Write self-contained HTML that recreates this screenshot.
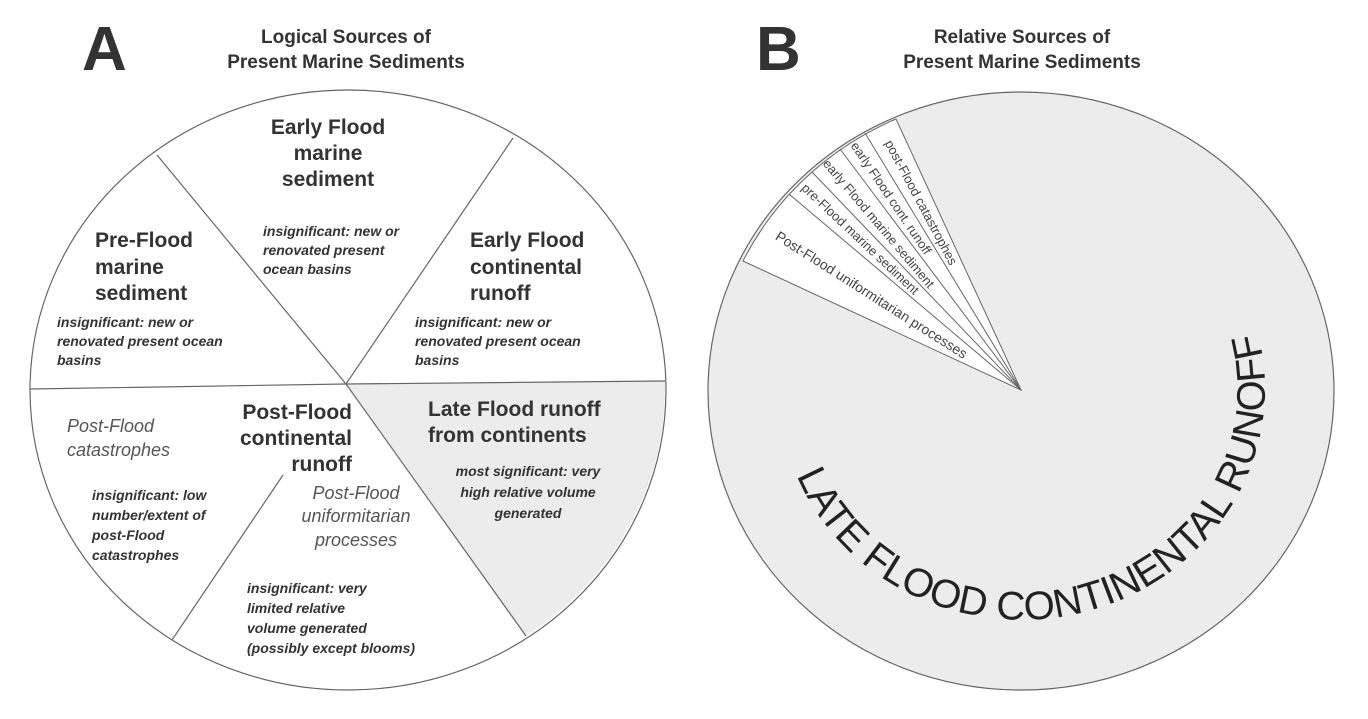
<!DOCTYPE html>
<html><head><meta charset="utf-8"><style>
html,body{margin:0;padding:0;background:#fff;}
svg{display:block;font-family:"Liberation Sans",sans-serif;}
.b{font-weight:bold;font-size:21px;fill:#333;}
.bi{font-weight:bold;font-style:italic;font-size:14px;fill:#333;}
.ri{font-style:italic;font-size:18px;fill:#555;}
.s{font-size:13px;fill:#444;}
</style></head><body>
<svg width="1368" height="719" viewBox="0 0 1368 719">
<text x="82" y="70" font-size="62" font-weight="bold" fill="#333">A</text>
<text x="346" y="43" text-anchor="middle" font-size="19" font-weight="bold" fill="#333">Logical Sources of</text>
<text x="346" y="68" text-anchor="middle" font-size="19" font-weight="bold" fill="#333">Present Marine Sediments</text>
<text x="756" y="70" font-size="62" font-weight="bold" fill="#333">B</text>
<text x="1022" y="43" text-anchor="middle" font-size="19" font-weight="bold" fill="#333">Relative Sources of</text>
<text x="1022" y="68" text-anchor="middle" font-size="19" font-weight="bold" fill="#333">Present Marine Sediments</text>

<!-- Pie A -->
<ellipse cx="348" cy="390" rx="318" ry="300" fill="#fff"/>
<path d="M346,384 L665,381 A318,300 0 0 1 526,636 Z" fill="#ececec"/>
<ellipse cx="348" cy="390" rx="318" ry="300" fill="none" stroke="#666" stroke-width="1.2"/>
<g stroke="#666" stroke-width="1.2" fill="none">
<line x1="30" y1="389" x2="346" y2="384"/>
<line x1="346" y1="384" x2="665" y2="381"/>
<line x1="346" y1="384" x2="526" y2="636"/>
<line x1="346" y1="384" x2="157" y2="155"/>
<line x1="346" y1="384" x2="513" y2="138"/>
<line x1="283" y1="475" x2="172" y2="640"/>
</g>
<g class="b" text-anchor="middle">
<text x="328" y="134">Early Flood</text>
<text x="328" y="160">marine</text>
<text x="328" y="186">sediment</text>
</g>
<g class="bi">
<text x="263" y="236">insignificant: new or</text>
<text x="263" y="255">renovated present</text>
<text x="263" y="274">ocean basins</text>
</g>
<g class="b">
<text x="95" y="247">Pre-Flood</text>
<text x="95" y="274">marine</text>
<text x="95" y="300">sediment</text>
<text x="470" y="247">Early Flood</text>
<text x="470" y="274">continental</text>
<text x="470" y="300">runoff</text>
<text x="428" y="416">Late Flood runoff</text>
<text x="428" y="442">from continents</text>
</g>
<g class="bi">
<text x="57" y="327">insignificant: new or</text>
<text x="57" y="346">renovated present ocean</text>
<text x="57" y="365">basins</text>
<text x="415" y="327">insignificant: new or</text>
<text x="415" y="346">renovated present ocean</text>
<text x="415" y="365">basins</text>
</g>
<g class="bi" text-anchor="middle">
<text x="528" y="476">most significant: very</text>
<text x="528" y="497">high relative volume</text>
<text x="528" y="518">generated</text>
</g>
<g class="b" text-anchor="end">
<text x="352" y="419">Post-Flood</text>
<text x="352" y="445">continental</text>
<text x="352" y="471">runoff</text>
</g>
<text class="ri" x="67" y="432">Post-Flood</text>
<text class="ri" x="67" y="456">catastrophes</text>
<g class="bi">
<text x="92" y="500">insignificant: low</text>
<text x="92" y="520">number/extent of</text>
<text x="92" y="540">post-Flood</text>
<text x="92" y="560">catastrophes</text>
</g>
<g class="ri" text-anchor="middle">
<text x="356" y="499">Post-Flood</text>
<text x="356" y="522">uniformitarian</text>
<text x="356" y="546">processes</text>
</g>
<g class="bi">
<text x="247" y="593">insignificant: very</text>
<text x="247" y="613">limited relative</text>
<text x="247" y="633">volume generated</text>
<text x="247" y="653">(possibly except blooms)</text>
</g>

<!-- Pie B -->
<ellipse cx="1021" cy="391" rx="313" ry="299" fill="#ececec" stroke="#666" stroke-width="1.2"/>
<path d="M1021,390 L743,261 A313,299 0 0 1 896,119 Z" fill="#fff" stroke="#666" stroke-width="1"/>
<g stroke="#666" stroke-width="1">
<line x1="1021" y1="390" x2="789" y2="194"/>
<line x1="1021" y1="390" x2="812" y2="172"/>
<line x1="1021" y1="390" x2="840" y2="149"/>
<line x1="1021" y1="390" x2="865" y2="133"/>
</g>
<g class="s" text-anchor="end">
<text transform="translate(966,355) rotate(32.5)" dy="0.35em" font-size="14">Post-Flood uniformitarian processes</text>
<text transform="translate(917,292) rotate(43.2)" dy="0.35em">pre-Flood marine sediment</text>
<text transform="translate(932,286) rotate(49.6)" dy="0.35em">early Flood marine sediment</text>
<text transform="translate(928.5,253) rotate(55.9)" dy="0.35em">early Flood cont. runoff</text>
<text transform="translate(954,264) rotate(62)" dy="0.35em">post-Flood catastrophes</text>
</g>
<defs>
<path id="arc" d="M796.7,475.5 A243,231 0 0 0 1256.7,329.2"/>
</defs>
<text font-size="40" fill="#222"><textPath href="#arc" textLength="712" lengthAdjust="spacing">LATE FLOOD CONTINENTAL RUNOFF</textPath></text>
</svg>
</body></html>
